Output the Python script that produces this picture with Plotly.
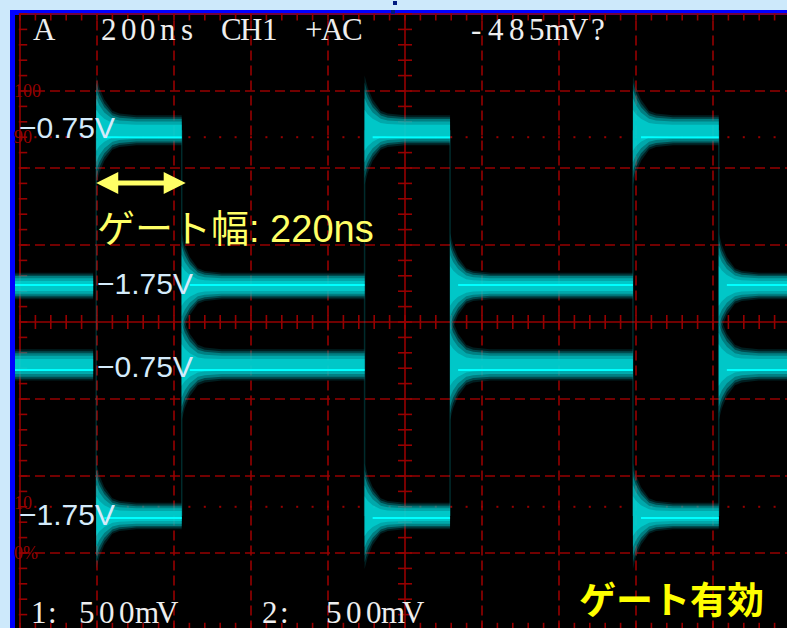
import plotly.graph_objects as go

# ---------------- data ----------------
time_per_div_ns = 200          # "200ns"
n_div_x, n_div_y = 10, 8
gate_start_ns = [198, 895, 1592]     # rising edges of the gate
gate_end_ns = [420, 1117, 1815]      # gate width ~220 ns
screen_start_ns = -13
screen_end_ns = 2000

# gated channels (visible only while the gate is open), levels in divisions
gated_center = [2.49, -2.52]
gated_bright = [2.40, -2.545]
gated_halfw = [0.162, 0.143]
# complementary channels (visible while the gate is closed)
comp_center = [0.468, -0.558]
comp_bright = [0.481, -0.623]
comp_halfw = [0.143, 0.169]

# ringing envelope after an edge: time offset (ns) vs extra half-width (div)
ring_offset_ns = [0, 8, 21, 42, 60, 104]
ring_extra_div = [0.43, 0.30, 0.17, 0.05, 0.02, 0.0]

level_labels = ["−0.75V", "−1.75V", "−0.75V", "−1.75V"]
pct_labels = ["100", "90", "10", "0%"]
pct_levels = [3.0, 2.4, -2.4, -3.0]
header_texts = ["A", "200ns", "CH1", "+AC", "-485mV?"]
footer_texts = ["1:", "500mV", "2:", "500mV"]

# ---------------- geometry helpers ----------------
W, H = 787, 628
GX0, GY0, DPX = 20, 322, 77


def X(px):
    return (px - GX0) * time_per_div_ns / DPX


def Y(py):
    return (GY0 - py) / DPX


RED = "rgb(150,0,0)"
fig = go.Figure()
shapes = []
annotations = []

# background / frame
shapes.append(dict(type="rect", x0=X(10), x1=X(W + 5), y0=Y(10), y1=Y(H + 5),
                   fillcolor="#0000ff", line_width=0, layer="below"))
shapes.append(dict(type="rect", x0=X(15), x1=X(W + 5), y0=Y(15), y1=Y(H + 5),
                   fillcolor="#000000", line_width=0, layer="below"))
shapes.append(dict(type="rect", x0=X(393), x1=X(397), y0=Y(1), y1=Y(5),
                   fillcolor="#001a80", line_width=0))
shapes.append(dict(type="rect", x0=X(391), x1=X(395), y0=Y(10), y1=Y(14),
                   fillcolor="#001a80", line_width=0))

# graticule
for k in range(0, n_div_x + 1):
    t = k * time_per_div_ns
    solid = k in (0, n_div_x // 2)
    shapes.append(dict(type="line", x0=t, x1=t, y0=-4.2, y1=n_div_y / 2,
                       line=dict(color=RED, width=1.6, dash="solid" if solid else "10px,5px"),
                       layer="below"))
for k in range(-n_div_y // 2, n_div_y // 2 + 1):
    solid = k in (0, n_div_y // 2)
    shapes.append(dict(type="line", x0=0, x1=n_div_x * time_per_div_ns, y0=k, y1=k,
                       line=dict(color=RED, width=1.6, dash="solid" if solid else "10px,5px"),
                       layer="below"))

minor_t = [i * time_per_div_ns / 5 for i in range(0, n_div_x * 5 + 1)]
minor_v = [i / 5 for i in range(-n_div_y // 2 * 5, n_div_y // 2 * 5 + 1)]


def tick_trace(xs, ys, symbol, size):
    return go.Scatter(x=xs, y=ys, mode="markers", hoverinfo="skip", showlegend=False,
                      marker=dict(symbol=symbol, size=size, color=RED,
                                  line=dict(color=RED, width=1.6)))


fig.add_trace(tick_trace(minor_t, [0] * len(minor_t), "line-ns", 10))
fig.add_trace(tick_trace([n_div_x * time_per_div_ns / 2] * len(minor_v), minor_v, "line-ew", 10))
fig.add_trace(tick_trace([X(23)] * len(minor_v), minor_v, "line-ew", 6))
fig.add_trace(tick_trace(minor_t, [Y(17)] * len(minor_t), "line-ns", 5))
fig.add_trace(tick_trace(minor_t, [Y(627)] * len(minor_t), "line-ns", 6))
# dotted 10 % / 90 % lines
fig.add_trace(go.Scatter(x=minor_t * 2, y=[2.4] * len(minor_t) + [-2.4] * len(minor_t),
                         mode="markers", hoverinfo="skip", showlegend=False,
                         marker=dict(symbol="square", size=2, color=RED)))

for txt, lv in zip(pct_labels, pct_levels):
    annotations.append(dict(x=X(12), y=lv + (0.05 if -3 < lv < 0 else 0), text=txt,
                            showarrow=False, xanchor="left", yanchor="middle",
                            font=dict(family="Liberation Serif", size=18, color=RED)))

# faint edge lines
ex, ey = [], []
for t in gate_start_ns + gate_end_ns:
    ex += [t, t, None]
    ey += [gated_center[0], gated_center[1], None]
fig.add_trace(go.Scatter(x=ex, y=ey, mode="lines", hoverinfo="skip", showlegend=False,
                         line=dict(color="rgba(0,170,175,0.25)", width=1.5)))


def band(segments, center, halfw, scale):
    xs, ys = [], []
    for a, b, ring in segments:
        xu, yu = [], []
        if ring:
            for o, e in zip(ring_offset_ns, ring_extra_div):
                if a + o < b:
                    xu.append(a + o)
                    yu.append((halfw + e) * scale)
        else:
            xu.append(a)
            yu.append(halfw * scale)
        xu.append(b)
        yu.append(halfw * scale)
        px = xu + xu[::-1] + [xu[0], None]
        py = [center + h for h in yu] + [center - h for h in yu[::-1]] + [center + yu[0], None]
        xs += px
        ys += py
    return xs, ys


def draw_channel(segments, center, bright, halfw):
    layers = [(1.2, "rgba(0,150,160,0.20)"), (1.05, "rgba(0,170,178,0.32)"),
              (0.9, "rgba(0,190,195,0.45)"), (0.7, "rgba(0,210,212,0.50)"),
              (0.45, "rgba(0,230,230,0.50)")]
    for sc, col in layers:
        xs, ys = band(segments, center, halfw, sc)
        fig.add_trace(go.Scatter(x=xs, y=ys, mode="lines", fill="toself", fillcolor=col,
                                 line=dict(width=0), hoverinfo="skip", showlegend=False))
    lx, ly = [], []
    for a, b, ring in segments:
        lx += [a + (ring_offset_ns[2] if ring else 0), b, None]
        ly += [bright, bright, None]
    fig.add_trace(go.Scatter(x=lx, y=ly, mode="lines", hoverinfo="skip", showlegend=False,
                             line=dict(color="#00ffff", width=2)))


gated_segments = [(a, b, True) for a, b in zip(gate_start_ns, gate_end_ns)]
comp_segments = [(screen_start_ns, gate_start_ns[0] - 8, False)]
for i, a in enumerate(gate_end_ns):
    b = gate_start_ns[i + 1] if i + 1 < len(gate_start_ns) else screen_end_ns
    comp_segments.append((a, b, True))

draw_channel(gated_segments, gated_center[0], gated_bright[0], gated_halfw[0])
draw_channel(comp_segments, comp_center[0], comp_bright[0], comp_halfw[0])
draw_channel(comp_segments, comp_center[1], comp_bright[1], comp_halfw[1])
draw_channel(gated_segments, gated_center[1], gated_bright[1], gated_halfw[1])

# level labels
label_pos = [(17, 127), (95, 283), (95, 366), (17, 514)]
for txt, (lx, ly) in zip(level_labels, label_pos):
    annotations.append(dict(x=X(lx), y=Y(ly), text=txt, showarrow=False,
                            xanchor="left", yanchor="middle",
                            font=dict(family="Liberation Sans", size=30, color="#d4ebfb")))


# header / footer text, one character per cell
def char_row(text, cx0, pitch, cy, size=31):
    for i, ch in enumerate(text):
        annotations.append(dict(x=X(cx0 + i * pitch), y=Y(cy), text=ch, showarrow=False,
                                xanchor="center", yanchor="middle",
                                font=dict(family="Liberation Serif", size=size, color="#eeeeee")))


for txt, (cx, pitch) in zip(header_texts, [(44, 19.6), (109, 19.6), (231, 19.5),
                                           (313, 19.5), (476, 20.3)]):
    char_row(txt, cx, pitch, 29)
for txt, (cx, pitch) in zip(footer_texts, [(39, 13), (87, 20), (270, 14), (334, 19.8)]):
    char_row(txt, cx, pitch, 612)

# gate width arrow
ya = Y(183)
a0, a1 = gate_start_ns[0], gate_end_ns[0] + X(24) - X(20)
hl, hh, sh = X(22) - X(0), Y(0) - Y(11), Y(0) - Y(2.5)
path = (f"M {a0},{ya} L {a0 + hl},{ya + hh} L {a0 + hl},{ya + sh} L {a1 - hl},{ya + sh} "
        f"L {a1 - hl},{ya + hh} L {a1},{ya} L {a1 - hl},{ya - hh} L {a1 - hl},{ya - sh} "
        f"L {a0 + hl},{ya - sh} L {a0 + hl},{ya - hh} Z")
shapes.append(dict(type="path", path=path, fillcolor="#ffff66", line_width=0))

annotations.append(dict(x=X(95), y=Y(229), text="ゲート幅: 220ns", showarrow=False,
                        xanchor="left", yanchor="middle",
                        font=dict(family="Liberation Sans, Noto Sans CJK JP", size=38,
                                  color="#ffff66")))
annotations.append(dict(x=X(671), y=Y(598), text="<b>ゲート有効</b>", showarrow=False,
                        xanchor="center", yanchor="middle",
                        font=dict(family="Noto Sans CJK JP", size=37, color="#ffff00")))

fig.update_layout(
    width=W, height=H, autosize=False,
    margin=dict(l=0, r=0, t=0, b=0, pad=0),
    paper_bgcolor="#cde9fb", plot_bgcolor="#cde9fb",
    xaxis=dict(range=[X(0), X(W)], visible=False, fixedrange=True),
    yaxis=dict(range=[Y(H), Y(0)], visible=False, fixedrange=True),
    shapes=shapes, annotations=annotations, showlegend=False,
)
fig.write_html("out.html", config={"displayModeBar": False},
               post_script="document.body.style.margin='0px';"
                           "document.body.style.overflow='hidden';"
                           "document.documentElement.style.overflow='hidden';")
